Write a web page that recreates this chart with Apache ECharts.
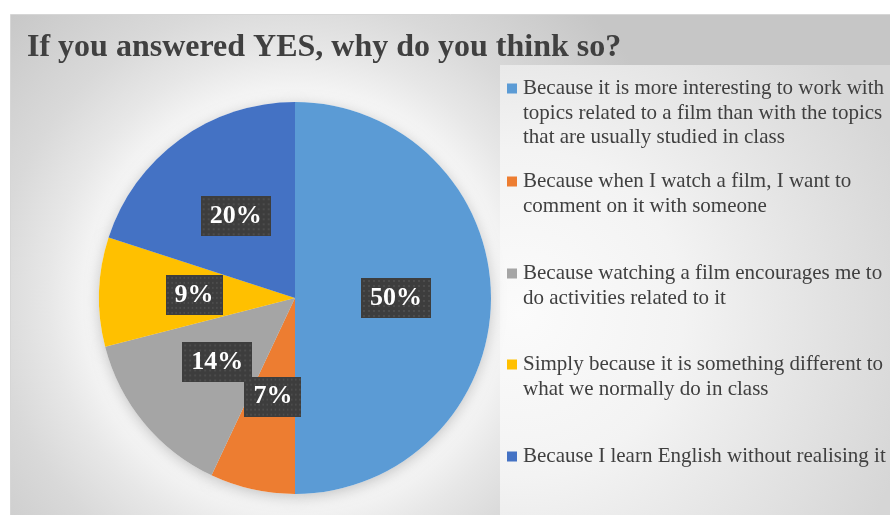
<!DOCTYPE html>
<html>
<head>
<meta charset="utf-8">
<style>
  html, body { margin: 0; padding: 0; background: #ffffff; }
  #chart { width: 890px; height: 515px; }
</style>
<script src="https://cdn.jsdelivr.net/npm/echarts@6/dist/echarts.min.js"></script>
</head>
<body>
<div id="chart"></div>
<script>
// Survey answers: reasons given by students who answered YES
const categories = [
  'Because it is more interesting to work with topics related to a film than with the topics that are usually studied in class',
  'Because when I watch a film, I want to comment on it with someone',
  'Because watching a film encourages me to do activities related to it',
  'Simply because it is something different to what we normally do in class',
  'Because I learn English without realising it'
];
// Wrapped legend text, one array of lines per category
const legendLines = [
  ['Because it is more interesting to work with', 'topics related to a film than with the topics', 'that are usually studied in class'],
  ['Because when I watch a film, I want to', 'comment on it with someone'],
  ['Because watching a film encourages me to', 'do activities related to it'],
  ['Simply because it is something different to', 'what we normally do in class'],
  ['Because I learn English without realising it']
];
// Share of answers, in percent
const shares = [50, 7, 14, 9, 20];
const colors = ['#5B9BD5', '#ED7D31', '#A5A5A5', '#FFC000', '#4472C4'];

const SERIF = '"Liberation Serif", "Times New Roman", serif';

// Dotted dark tile used behind the percentage labels
function dotTile(w, h) {
  const c = document.createElement('canvas');
  c.width = w; c.height = h;
  const g = c.getContext('2d');
  g.fillStyle = '#3d3d3d';
  g.fillRect(0, 0, w, h);
  g.fillStyle = '#4c4c4c';
  for (let y = 2; y < h; y += 5) {
    for (let x = 2; x < w; x += 5) g.fillRect(x, y, 2, 2);
  }
  return c;
}
const tile = dotTile(70, 40);

const pieData = categories.map((name, i) => ({
  name: name,
  value: shares[i],
  itemStyle: { color: colors[i] }
}));

// One legend block per category so each can sit at its own height
const legendTops = [75, 168, 260, 351, 443];
const legends = categories.map((name, i) => ({
  data: [name],
  left: 502,
  top: legendTops[i] + 3,
  orient: 'vertical',
  padding: 0,
  icon: 'none',
  itemWidth: 0,
  itemHeight: 10,
  selectedMode: false,
  formatter: function () {
    const lines = legendLines[i];
    return lines.map((ln, k) => (k === 0 ? '{m|}{g|}{t|' + ln + '}' : '{i|}{t|' + ln + '}')).join('\n');
  },
  textStyle: {
    rich: {
      m: { width: 10, height: 10, backgroundColor: colors[i], verticalAlign: 'middle' },
      g: { width: 6, height: 10 },
      i: { width: 16, height: 10 },
      t: { fontFamily: SERIF, fontSize: 21, lineHeight: 24.5, color: '#404040' }
    }
  }
}));

const chart = echarts.init(document.getElementById('chart'), null, { renderer: 'canvas' });
chart.setOption({
  animation: false,
  backgroundColor: '#ffffff',
  title: {
    text: 'If you answered YES, why do you think so?',
    left: 22,
    top: 27,
    textStyle: {
      fontFamily: SERIF,
      fontWeight: 'bold',
      fontSize: 32,
      color: '#404040'
    }
  },
  graphic: [
    {
      type: 'rect',
      z: -10,
      silent: true,
      shape: { x: 10.5, y: 14.5, width: 880, height: 501 },
      style: {
        stroke: '#d6d6d6',
        lineWidth: 1,
        fill: {
          type: 'radial', x: 0.324, y: 0.567, r: 0.82,
          colorStops: [
            { offset: 0, color: '#ffffff' },
            { offset: 0.45, color: '#fcfcfc' },
            { offset: 0.6, color: '#e7e7e7' },
            { offset: 0.73, color: '#d9d9d9' },
            { offset: 1, color: '#c6c6c6' }
          ]
        }
      }
    },
    {
      type: 'rect',
      z: -9,
      silent: true,
      shape: { x: 500, y: 65, width: 390, height: 450 },
      style: {
        fill: {
          type: 'radial', x: 0.05, y: 0.55, r: 1.05,
          colorStops: [
            { offset: 0, color: '#fbfbfb' },
            { offset: 0.4, color: '#f3f3f3' },
            { offset: 1, color: '#d6d6d6' }
          ]
        }
      }
    }
  ],
  legend: legends,
  series: [
    {
      // soft drop shadow under the pie
      type: 'pie',
      silent: true,
      z: 1,
      center: [295, 298],
      radius: 196,
      startAngle: 90,
      clockwise: true,
      label: { show: false },
      labelLine: { show: false },
      itemStyle: {
        color: '#ffffff',
        shadowBlur: 14,
        shadowColor: 'rgba(0,0,0,0.22)',
        shadowOffsetY: 3
      },
      data: categories.map((name, i) => ({ name: name, value: shares[i] }))
    },
    {
      type: 'pie',
      z: 2,
      center: [295, 298],
      radius: 196,
      startAngle: 90,
      clockwise: true,
      avoidLabelOverlap: false,
      minShowLabelAngle: 0,
      labelLayout: { hideOverlap: false, moveOverlap: null },
      itemStyle: { borderWidth: 0 },
      label: {
        show: true,
        position: 'inside',
        formatter: '{c}%',
        fontFamily: SERIF,
        fontWeight: 'bold',
        fontSize: 26,
        lineHeight: 26,
        color: '#ffffff',
        padding: [7, 9, 7, 9],
        backgroundColor: { image: tile },
        shadowBlur: 4,
        shadowOffsetX: 3,
        shadowOffsetY: 3,
        shadowColor: 'rgba(0,0,0,0.45)'
      },
      labelLine: { show: false },
      emphasis: { disabled: true },
      data: pieData
    }
  ]
});
</script>
</body>
</html>
